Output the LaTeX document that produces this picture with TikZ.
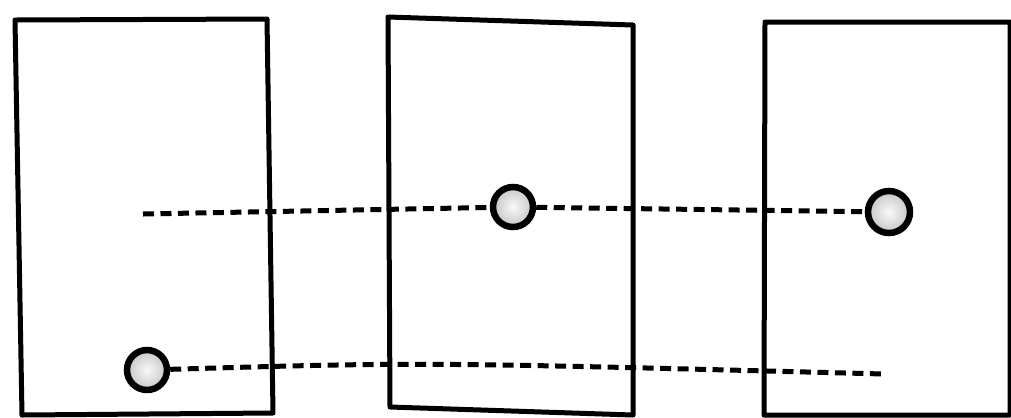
\documentclass[tikz,border=0pt]{standalone}
\usetikzlibrary{shadings}

\tikzset{
  carta/.style={line width=0.1cm, line join=round},
  agujero/.style={circle, draw, line width=0.13cm, inner sep=0pt,
    minimum size=0.8cm, inner color=gray!5, outer color=gray!45},
  rayo/.style={line width=0.1cm, dash pattern=on 0.22cm off 0.13cm}
}

\begin{document}
\begin{tikzpicture}[x=0.02cm, y=-0.02cm]
    % Marco de la imagen
    \useasboundingbox (0,0) rectangle (1011,417);

    % Cartas (rectángulos ligeramente torcidos)
    \draw[carta] (15,20) -- (267,19) -- (273,413) -- (22,415) -- cycle;    % Carta 1
    \draw[carta] (388,17) -- (633,25) -- (633,415) -- (390,407) -- cycle;  % Carta 2
    \draw[carta] (765,22) -- (1010,22) -- (1010,415) -- (764,415) -- cycle; % Carta 3

    % Agujeros
    \node[agujero] (h1) at (147,370) {};
    \node[agujero] (h2) at (513,207) {};
    \node[agujero, minimum size=0.84cm] (h3) at (889,212) {};

    % Extremos libres de las líneas
    \coordinate (s1) at (143,214);
    \coordinate (e2) at (884,374);

    % Líneas discontinuas
    \draw[rayo] (s1) -- (h2);
    \draw[rayo] (h2) -- (h3);
    \draw[rayo] (h1) .. controls (420,362) .. (e2);

\end{tikzpicture}
\end{document}
